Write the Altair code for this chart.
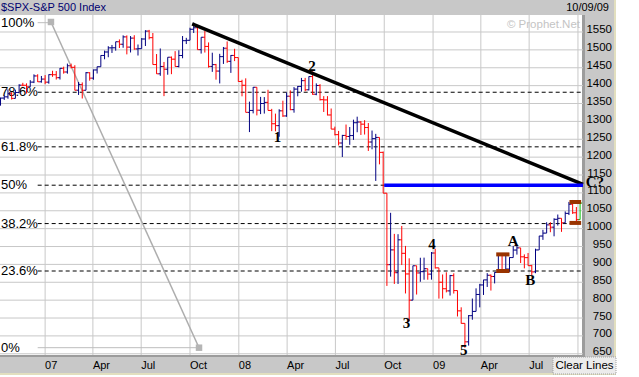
import altair as alt
import pandas as pd

# ---------------- data (weekly bars, week starting Monday) ----------------
first_week = "2006-10-09"

opens = [
    1349.9, 1365.2, 1368.6, 1377.3, 1364.3, 1380.9, 1401.2, 1400.95, 1396.7, 1409.8, 1427.1, 1410.8,
    1418.3, 1409.7, 1430.7, 1430.5, 1422.2, 1448.4, 1438.1, 1455.5, 1451.2, 1387.2, 1402.8, 1386.95,
    1436.1, 1420.9, 1443.8, 1452.85, 1484.35, 1494.07, 1505.6, 1505.85, 1522.75, 1515.7, 1536.3, 1507.7,
    1532.9, 1502.6, 1503.35, 1530.4, 1552.5, 1534.1, 1458.95, 1433.06, 1453.6, 1445.9, 1479.4, 1473.99,
    1453.55, 1484.25, 1525.75, 1526.75, 1557.6, 1561.8, 1500.6, 1535.3, 1509.65, 1453.7, 1458.7, 1440.7,
    1481.1, 1504.66, 1467.95, 1484.46,
    1478.5, 1411.6, 1401.0, 1325.2, 1330.6, 1395.4, 1331.3, 1349.99, 1353.1, 1330.6, 1293.4, 1288.1,
    1329.5, 1315.2, 1370.4, 1332.8, 1390.3, 1397.8, 1413.9, 1388.3, 1425.35, 1375.9, 1400.4, 1360.7,
    1360.0, 1317.9, 1278.4, 1262.9, 1239.5, 1260.7, 1257.8, 1260.3, 1296.3, 1298.2, 1292.2, 1282.8,
    1242.3, 1251.7, 1255.1, 1213.3, 1099.2, 899.2, 940.55, 876.8, 968.75, 930.99, 873.3, 800.0,
    896.2, 876.1, 879.7, 887.9,
    872.8, 931.8, 890.35, 850.1, 831.95, 825.9, 868.6, 826.8, 770.05, 735.1, 683.4, 756.55,
    768.5, 815.9, 842.5, 856.6, 869.6, 866.2, 877.5, 929.2, 882.9, 887.0, 919.1, 940.1,
    946.2, 921.2, 918.9, 896.4, 879.1, 940.4, 979.3, 987.5, 1010.5, 1004.1, 1026.1, 1028.9,
    1016.4, 1042.7, 1068.3, 1044.4, 1025.2,
]
highs = [
    1366.6, 1372.9, 1389.5, 1381.9, 1388.6, 1403.8, 1407.9, 1406.3, 1415.3, 1431.6, 1431.8, 1427.0,
    1429.4, 1431.6, 1441.6, 1440.7, 1449.3, 1453.0, 1461.6, 1461.6, 1457.0, 1410.1, 1409.0, 1437.8,
    1437.5, 1445.1, 1453.1, 1484.7, 1498.0, 1510.3, 1513.8, 1522.75, 1529.3, 1540.6, 1540.5, 1538.7,
    1541.0, 1515.0, 1533.1, 1555.1, 1555.9, 1547.2, 1488.3, 1503.9, 1466.3, 1479.4, 1481.5, 1496.4,
    1498.9, 1538.7, 1533.7, 1561.9, 1576.1, 1563.6, 1535.3, 1552.8, 1520.8, 1492.1, 1460.8, 1488.9,
    1508.1, 1523.6, 1485.4, 1503.0,
    1478.5, 1416.4, 1420.4, 1355.2, 1396.0, 1395.4, 1368.5, 1367.9, 1388.3, 1335.0, 1321.7, 1334.0,
    1357.8, 1380.9, 1386.7, 1395.9, 1399.0, 1421.6, 1421.6, 1425.8, 1440.2, 1406.3, 1404.0, 1370.6,
    1370.6, 1336.0, 1285.3, 1273.3, 1262.3, 1291.2, 1284.2, 1304.8, 1313.15, 1300.7, 1303.4, 1295.4,
    1274.4, 1265.1, 1255.1, 1215.8, 1099.2, 1044.3, 985.4, 984.4, 1007.5, 951.7, 917.0, 896.3,
    896.2, 918.6, 918.9, 887.9,
    934.7, 943.85, 890.35, 871.8, 877.9, 870.6, 875.0, 827.0, 780.0, 735.1, 758.3, 804.5,
    832.98, 845.6, 856.9, 875.6, 871.8, 877.9, 930.2, 931.0, 924.6, 920.0, 951.7, 956.2,
    946.2, 928.0, 931.9, 898.7, 943.96, 979.8, 996.7, 1018.0, 1018.0, 1029.0, 1039.5, 1028.9,
    1048.2, 1074.8, 1080.15, 1060.4, 1073.2,
]
lows = [
    1343.9, 1360.0, 1363.3, 1361.0, 1364.3, 1378.4, 1398.6, 1377.8, 1396.7, 1407.1, 1410.3, 1408.3,
    1404.0, 1405.4, 1424.6, 1417.0, 1417.0, 1433.4, 1433.4, 1448.3, 1386.9, 1374.0, 1364.0, 1386.95,
    1413.9, 1416.4, 1433.9, 1452.8, 1473.7, 1479.4, 1491.4, 1497.8, 1505.2, 1505.9, 1487.4, 1492.7,
    1500.5, 1484.2, 1503.35, 1510.8, 1529.2, 1458.9, 1432.8, 1427.4, 1370.6, 1430.5, 1432.0, 1453.5,
    1451.0, 1476.5, 1516.3, 1526.7, 1547.2, 1500.6, 1489.6, 1492.5, 1450.3, 1438.5, 1416.7, 1406.1,
    1460.7, 1463.6, 1435.65, 1468.6,
    1411.2, 1370.1, 1325.2, 1270.05, 1322.4, 1316.75, 1320.3, 1321.8, 1330.6, 1272.7, 1272.3, 1256.98,
    1312.6, 1312.8, 1331.3, 1324.35, 1370.2, 1383.1, 1384.35, 1386.6, 1374.4, 1373.1, 1358.4, 1326.3,
    1316.7, 1278.4, 1260.7, 1232.7, 1200.4, 1248.6, 1234.4, 1248.2, 1269.6, 1262.0, 1263.2, 1217.3,
    1221.9, 1133.5, 1179.8, 1099.2, 839.8, 865.8, 845.3, 845.3, 898.1, 818.7, 741.0, 800.0,
    815.7, 851.35, 857.1, 857.1,
    857.3, 888.3, 804.3, 804.5, 821.7, 812.9, 818.4, 754.3, 734.5, 666.8, 672.9, 745.2,
    768.5, 779.8, 814.5, 836.9, 826.8, 846.8, 877.5, 878.9, 878.9, 879.6, 919.1, 927.4,
    903.8, 888.9, 896.4, 869.3, 875.4, 940.4, 968.6, 987.5, 990.0, 978.5, 1008.6, 991.0,
    1016.4, 1038.0, 1041.2, 1019.95, 1025.2,
]
closes = [
    1365.2, 1368.6, 1377.3, 1364.3, 1380.9, 1401.2, 1400.95, 1396.7, 1409.8, 1427.1, 1410.8, 1418.3,
    1409.7, 1430.7, 1430.5, 1422.2, 1448.4, 1438.1, 1455.5, 1451.2, 1387.2, 1402.8, 1386.95, 1436.1,
    1420.9, 1443.8, 1452.85, 1484.35, 1494.07, 1505.6, 1505.85, 1522.75, 1515.7, 1536.3, 1507.7, 1532.9,
    1502.6, 1503.35, 1530.4, 1552.5, 1534.1, 1458.95, 1433.06, 1453.6, 1445.9, 1479.4, 1473.99, 1453.55,
    1484.25, 1525.75, 1526.75, 1557.6, 1561.8, 1500.6, 1535.3, 1509.65, 1453.7, 1458.7, 1440.7, 1481.1,
    1504.66, 1467.95, 1484.46, 1478.5,
    1411.6, 1401.0, 1325.2, 1330.6, 1395.4, 1331.3, 1349.99, 1353.1, 1330.6, 1293.4, 1288.1, 1329.5,
    1315.2, 1370.4, 1332.8, 1390.3, 1397.8, 1413.9, 1388.3, 1425.35, 1375.9, 1400.4, 1360.7, 1360.0,
    1317.9, 1278.4, 1262.9, 1239.5, 1260.7, 1257.8, 1260.3, 1296.3, 1298.2, 1292.2, 1282.8, 1242.3,
    1251.7, 1255.1, 1213.3, 1099.2, 899.2, 940.55, 876.8, 968.75, 930.99, 873.3, 800.0, 896.2,
    876.1, 879.7, 887.9, 872.8,
    931.8, 890.35, 850.1, 831.95, 825.9, 868.6, 826.8, 770.05, 735.1, 683.4, 756.55, 768.5,
    815.9, 842.5, 856.6, 869.6, 866.2, 877.5, 929.2, 882.9, 887.0, 919.1, 940.1, 946.2,
    921.2, 918.9, 896.4, 879.1, 940.4, 979.3, 987.5, 1010.5, 1004.1, 1026.1, 1028.9, 1016.4,
    1042.7, 1068.3, 1044.4, 1025.2, 1071.5,
]
prev_close_before_first = 1349.6

price_ticks = [650, 700, 750, 800, 850, 900, 950, 1000, 1050, 1100, 1150, 1200,
               1250, 1300, 1350, 1400, 1450, 1500, 1550]
quarter_dates = ["2007-01-01", "2007-04-01", "2007-07-01", "2007-10-01", "2008-01-01",
                 "2008-04-01", "2008-07-01", "2008-10-01", "2009-01-01", "2009-04-01",
                 "2009-07-01", "2009-10-01"]
quarter_labels = ["07", "Apr", "Jul", "Oct", "08", "Apr", "Jul", "Oct", "09", "Apr", "Jul", ""]

fib_labels = ["100%", "78.6%", "61.8%", "50%", "38.2%", "23.6%", "0%"]
fib_prices = [1576.0, 1381.5, 1228.8, 1121.5, 1014.2, 881.5, 667.0]
fib_dashed = [False, True, True, True, True, True, False]
fib_start = "2006-12-18"
fib_end = ["2007-01-12", "2009-10-10", "2009-10-10", "2009-10-10", "2009-10-10", "2009-10-10", "2007-10-18"]

tool_dates = ["2007-01-12", "2007-10-18"]
tool_prices = [1578.0, 667.0]

trend_dates = ["2007-10-05", "2009-10-10T12:00:00Z"]
trend_prices = [1572.5, 1124.0]

blue_dates = ["2008-10-01", "2009-10-10T12:00:00Z"]
blue_price = 1121.5

brown_start = ["2009-04-30", "2009-04-30", "2009-09-15", "2009-09-15"]
brown_end = ["2009-05-25", "2009-05-25", "2009-10-07", "2009-10-07"]
brown_prices = [928.0, 881.5, 1074.5, 1016.0]

note_text = ["1", "2", "3", "4", "5", "A", "B", "C?"]
note_dates = ["2008-03-14", "2008-05-18", "2008-11-12", "2008-12-30", "2009-02-28",
              "2009-06-01", "2009-07-03", "2009-11-02"]
note_prices = [1255, 1454, 736, 958, 660, 965, 855, 1130]

# ---------------- frames ----------------
dates = pd.date_range(first_week, periods=len(closes), freq="7D").strftime("%Y-%m-%d").tolist()
bars = pd.DataFrame({"date": dates, "open": opens, "high": highs, "low": lows, "close": closes})
prev = [prev_close_before_first] + closes[:-1]
bars["dir"] = ["up" if c >= p else "down" for c, p in zip(closes, prev)]
bars.loc[len(bars) - 1, "dir"] = "last"

FONT = "Liberation Sans"
x_scale = alt.Scale(type="utc",
                    domain=[alt.DateTime(year=2006, month=10, date=8, utc=True),
                            alt.DateTime(year=2009, month=10, date=10, hours=12, utc=True)])
y_scale = alt.Scale(domain=[646.58, 1597.54], nice=False, zero=False)

one = pd.DataFrame({"k": [0]})


def box(x, x2, y, y2, fill, **kw):
    return alt.Chart(one).mark_rect(fill=fill, **kw).encode(
        x=alt.value(x), x2=alt.value(x2), y=alt.value(y), y2=alt.value(y2))


def label(text, x, y, **kw):
    return alt.Chart(one).mark_text(text=text, font=FONT, **kw).encode(
        x=alt.value(x), y=alt.value(y))


X = lambda f: alt.X(f, type="temporal", scale=x_scale, axis=None)
Y = lambda f: alt.Y(f, type="quantitative", scale=y_scale, axis=None)

GRAY = "#c8c8c8"
layers = [
    box(0, 614, -15, 0, GRAY),
    box(583, 614, 0, 358, GRAY),
    box(0, 583, 340, 358, GRAY),
    box(582, 585, 0, 342, "#9c9c9c"),
    box(0, 585, 340, 342, "#9c9c9c"),
    box(614, 616, -15, 360, "#e2dfbf"),
    box(0, 616, 358, 360, "#e2dfbf"),
]

hgrid = alt.Chart(pd.DataFrame({"p": price_ticks})).mark_rule(color=GRAY, strokeWidth=1).encode(y=Y("p"))
vgrid = alt.Chart(pd.DataFrame({"d": quarter_dates})).mark_rule(color=GRAY, strokeWidth=1).encode(x=X("d"))
layers += [hgrid, vgrid]

fib = pd.DataFrame({"lab": fib_labels, "p": fib_prices, "dashed": fib_dashed,
                    "x1": [fib_start] * len(fib_labels), "x2": fib_end})
layers.append(alt.Chart(fib[fib.dashed]).mark_rule(color="black", strokeWidth=1, strokeDash=[4, 3]).encode(
    x=X("x1"), x2="x2:T", y=Y("p")))
layers.append(alt.Chart(fib[~fib.dashed]).mark_rule(color="#bdbdbd", strokeWidth=1).encode(
    x=X("x1"), x2="x2:T", y=Y("p")))
layers.append(alt.Chart(fib).mark_text(align="left", baseline="middle", font=FONT, fontSize=13,
                                       color="black").encode(x=alt.value(1), y=Y("p"), text="lab:N"))

tool = pd.DataFrame({"d": tool_dates, "p": tool_prices})
layers.append(alt.Chart(tool).mark_line(color="#adadad", strokeWidth=1.5).encode(x=X("d"), y=Y("p")))
layers.append(alt.Chart(tool).mark_square(size=42, color="#b5b5b5", opacity=1).encode(x=X("d"), y=Y("p")))

color = alt.Color("dir:N", scale=alt.Scale(domain=["up", "down", "last"],
                                           range=["#000080", "#ff0000", "#00c000"]), legend=None)
layers.append(alt.Chart(bars).mark_rule(strokeWidth=1).encode(x=X("date"), y=Y("low"), y2="high:Q", color=color))
layers.append(alt.Chart(bars).mark_rule(strokeWidth=1, xOffset=-2, x2Offset=0).encode(
    x=X("date"), x2="date:T", y=Y("open"), color=color))
layers.append(alt.Chart(bars).mark_rule(strokeWidth=1, xOffset=0, x2Offset=2).encode(
    x=X("date"), x2="date:T", y=Y("close"), color=color))

brown = pd.DataFrame({"a": brown_start, "b": brown_end, "p": brown_prices})
layers.append(alt.Chart(brown).mark_rule(color="#993300", strokeWidth=4).encode(x=X("a"), x2="b:T", y=Y("p")))

trend = pd.DataFrame({"d": trend_dates, "p": trend_prices})
layers.append(alt.Chart(trend).mark_line(color="black", strokeWidth=3.5).encode(x=X("d"), y=Y("p")))
blue = pd.DataFrame({"d": blue_dates, "p": [blue_price, blue_price]})
layers.append(alt.Chart(blue).mark_line(color="#0000ff", strokeWidth=3.5).encode(x=X("d"), y=Y("p")))

notes = pd.DataFrame({"t": note_text, "d": note_dates, "p": note_prices})
layers.append(alt.Chart(notes).mark_text(font="Liberation Serif", fontWeight="bold", fontSize=15,
                                         baseline="middle", align="center", color="black").encode(
    x=X("d"), y=Y("p"), text="t:N"))

ql = pd.DataFrame({"d": quarter_dates, "t": quarter_labels})
layers.append(alt.Chart(ql).mark_text(align="left", baseline="middle", font=FONT, fontSize=11,
                                      color="black").encode(x=X("d"), y=alt.value(351), text="t:N"))
pl = pd.DataFrame({"p": price_ticks, "t": [str(v) for v in price_ticks]})
layers.append(alt.Chart(pl).mark_text(align="right", baseline="middle", font=FONT, fontSize=11.5,
                                      dy=-1.5, color="black").encode(x=alt.value(612), y=Y("p"), text="t:N"))

layers += [
    label("\u00a9 Prophet.Net", 580, 9.5, align="right", baseline="middle", fontSize=11.5, color="#c4c4c4"),
    label("$SPX-S&P 500 Index", 1, -7.5, align="left", baseline="middle", fontSize=11, color="#000070"),
    label("10/09/09", 609, -7.5, align="right", baseline="middle", fontSize=11, color="black"),
    box(553, 616, 342, 359, "#ececec", stroke="#a0a0a0", strokeWidth=1, strokeDash=[1, 1]),
    label("Clear Lines", 584.5, 350.5, align="center", baseline="middle", fontSize=11.5, color="black"),
]

chart = alt.layer(*layers).properties(
    width=583, height=340,
    padding={"left": 0, "top": 15, "right": 56, "bottom": 22},
    autosize=alt.AutoSizeParams(type="none"),
    background="white",
).configure_view(stroke=None)

chart.save("out.html", embed_options={"renderer": "svg", "actions": False})
